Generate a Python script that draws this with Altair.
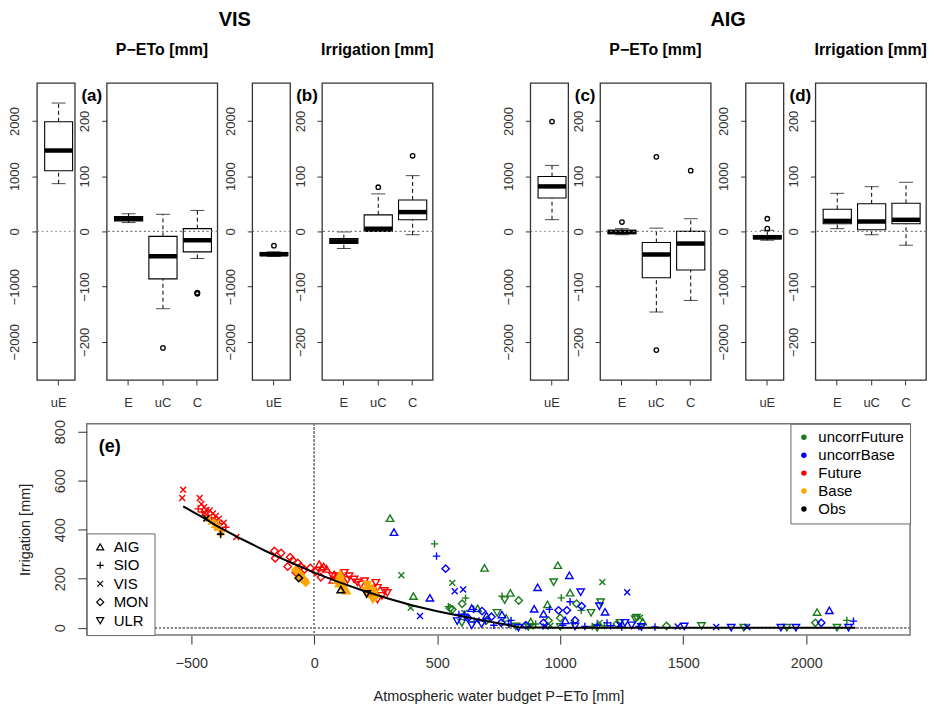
import altair as alt
import pandas as pd

FONT = "Liberation Sans"

# ---------------- top panels: box-plot summaries ----------------
box_panel = ["VIS-P-uE", "VIS-P", "VIS-P", "VIS-P",
             "VIS-I-uE", "VIS-I", "VIS-I", "VIS-I",
             "AIG-P-uE", "AIG-P", "AIG-P", "AIG-P",
             "AIG-I-uE", "AIG-I", "AIG-I", "AIG-I"]
box_cat = ["uE", "E", "uC", "C"] * 4
box_lo = [865, 16, -140, -49, -455, -31, 0, -6, 213, -6, -146, -125, -160, 5, -6, -25]
box_q1 = [1100, 19, -86, -37, -440, -22, 0, 21, 605, -4, -84, -70, -135, 14, 3, 14]
box_med = [1465, 23, -45, -16, -412, -18, 5, 35, 815, -1, -42, -22, -105, 19, 18, 21]
box_q3 = [1985, 27, -9, 5, -385, -13, 30, 57, 995, 2, -20, 0, -75, 40, 50, 51]
box_hi = [2325, 32, 31, 38, -370, -1, 68, 101, 1195, 5, 6, 23, 20, 69, 81, 89]

out_panel = ["VIS-P", "VIS-P", "VIS-P", "VIS-P", "VIS-I-uE", "VIS-I", "VIS-I",
             "AIG-P-uE", "AIG-P", "AIG-P", "AIG-P", "AIG-P", "AIG-I-uE", "AIG-I-uE"]
out_cat = ["uC", "C", "C", "C", "uE", "uC", "C", "uE", "E", "uC", "uC", "C", "uE", "uE"]
out_val = [-211, -111, -112, -113, -258, 80, 137, 1990, 17, 135, -215, 110, 50, 230]

big_ticks = [-2000, -1000, 0, 1000, 2000]
small_ticks = [-200, -100, 0, 100, 200]

# ---------------- bottom panel: scatter ----------------
series_names = ["uncorrFuture", "uncorrBase", "Future", "Base", "Obs"]
series_colors = ["#1a7a1a", "#0000ff", "#ff0000", "#ffa500", "#000000"]
model_names = ["AIG", "SIO", "VIS", "MON", "ULR"]
model_shapes = ["triangle-up", "M-1,0L1,0M0,-1L0,1",
                "M-0.8,-0.8L0.8,0.8M-0.8,0.8L0.8,-0.8", "diamond", "triangle-down"]

uf_model = ["AIG"] * 11 + ["SIO"] * 11 + ["VIS"] * 8 + ["MON"] * 10 + ["ULR"] * 15 + \
    ["ULR", "SIO", "MON", "AIG", "VIS", "ULR"]
uf_x = [308, 403, 692, 797, 664, 990, 1040, 948, 2044, 780, 880,
        489, 615, 545, 763, 1004, 1085, 2165, 650, 900, 1053, 1130,
        354, 392, 561, 1171, 1324, 880, 1160, 610,
        601, 561, 831, 1066, 952, 2037, 1432, 700, 552, 1000,
        774, 973, 1164, 1125, 1310, 1243, 1574, 1746, 1921, 2125, 820, 1000, 1150, 743, 600,
        1305, 1180, 1230, 1335, 960, 870]
uf_y = [447, 129, 244, 142, 79, 255, 143, 95, 64, 40, 25,
        342, 121, 86, 129, 122, 71, 30, 25, 15, 20, 5,
        214, 81, 183, 186, 41, 5, 20, 60,
        98, 75, 111, 98, 30, 20, 7, 30, 80, 40,
        113, 186, 104, 61, 41, 20, 7, 0, 0, 0, 5, 3, 0, 61, 20,
        35, 8, 15, 25, 8, 3]

ub_model = ["AIG"] * 11 + ["SIO"] * 15 + ["VIS"] * 10 + ["MON"] * 11 + ["ULR"] * 12 + \
    ["SIO", "SIO", "ULR", "VIS", "SIO", "ULR", "MON", "SIO", "ULR", "AIG"]
ub_x = [324, 470, 908, 894, 1037, 1182, 2094, 932, 763, 640, 700,
        497, 588, 648, 696, 790, 956, 1040, 1190, 1385, 2192, 1100, 1250, 730, 610, 1010,
        430, 571, 605, 1272, 1477, 1634, 1760, 620, 940, 660,
        534, 682, 1087, 993, 1027, 2061, 932, 720, 860, 625, 1060,
        581, 1083, 1159, 1263, 1504, 1695, 1897, 1958, 2172, 680, 830, 1330,
        1150, 1205, 1290, 1240, 1320, 1060, 760, 800, 640, 1020]
ub_y = [390, 122, 165, 77, 214, 65, 71, 57, 54, 80, 50,
        292, 54, 75, 27, 14, 75, 106, 20, 3, 27, 5, 3, 10, 55, 10,
        48, 149, 156, 145, 5, 3, 3, 40, 5, 30,
        241, 68, 88, 71, 71, 20, 20, 45, 10, 40, 30,
        27, 145, 88, 20, 5, 0, 0, 0, 0, 15, 0, 3,
        10, 8, 10, 12, 5, 5, 20, 30, 10, 30]

fu_model = ["VIS"] * 13 + ["SIO"] * 7 + ["MON"] * 13 + ["AIG"] * 8 + ["ULR"] * 16
fu_x = [-533, -537, -466, -459, -448, -438, -445, -425, -412, -400, -388, -368, -317,
        -472, -455, -432, -418, -403, -385, -360,
        -162, -159, -135, -98, -108, -88, -67, -55, -40, -16, 5, 27, -75,
        20, 30, 38, 50, 81, 95, 75, 110,
        74, 100, 122, 142, 135, 162, 175, 189, 205, 230, 250, 257, 257, 275, 297, 285]
fu_y = [563, 529, 529, 505, 492, 481, 468, 478, 466, 456, 445, 428, 370,
        485, 472, 458, 448, 440, 425, 410,
        313, 283, 305, 288, 250, 275, 264, 250, 238, 244, 228, 206, 225,
        260, 245, 250, 240, 218, 210, 195, 190,
        210, 205, 224, 210, 195, 197, 185, 176, 190, 142, 183, 163, 115, 130, 142, 150]

ba_model = ["VIS", "VIS", "SIO", "SIO", "VIS", "SIO", "SIO", "SIO", "SIO", "VIS"] + \
           ["MON"] * 7 + ["AIG"] * 8 + ["ULR"] * 8
ba_x = [-430, -420, -410, -400, -395, -405, -385, -375, -380, -392,
        -75, -65, -55, -50, -40, -35, -60,
        105, 110, 115, 120, 125, 100, 130, 95,
        215, 225, 235, 245, 220, 208, 250, 238]
ba_y = [445, 432, 424, 418, 430, 410, 400, 392, 380, 408,
        235, 225, 215, 200, 195, 185, 208,
        220, 200, 185, 170, 160, 180, 152, 195,
        175, 160, 150, 140, 140, 152, 125, 115]

ob_model = ["VIS", "SIO", "MON", "AIG", "ULR"]
ob_x = [-439, -381, -63, 108, 213]
ob_y = [446, 382, 203, 156, 138]

curve_x = [-533, -450, -400, -300, -200, -100, 0, 100, 200, 300, 400, 500, 600,
           700, 760, 800, 830, 1000, 1500, 2200]
curve_y = [495, 448, 418, 364, 314, 268, 225, 186, 151, 119, 91, 67, 47,
           27, 16, 8, 2, 0, 0, 0]

# ---------------- tables ----------------
box_df = pd.DataFrame({"panel": box_panel, "cat": box_cat, "lo": box_lo, "q1": box_q1,
                       "med": box_med, "q3": box_q3, "hi": box_hi})
out_df = pd.DataFrame({"panel": out_panel, "cat": out_cat, "val": out_val})


def series_df(name, models, xs, ys):
    return pd.DataFrame({"series": name, "model": models, "x": xs, "y": ys})


main_df = pd.concat([series_df("uncorrFuture", uf_model, uf_x, uf_y),
                     series_df("uncorrBase", ub_model, ub_x, ub_y),
                     series_df("Future", fu_model, fu_x, fu_y)], ignore_index=True)
base_df = series_df("Base", ba_model, ba_x, ba_y)
obs_df = series_df("Obs", ob_model, ob_x, ob_y)
curve_df = pd.DataFrame({"x": curve_x, "y": curve_y})

PANEL_H = 298
TRANSPARENT = alt.ViewBackground(stroke="transparent")


def label_layer(text, x, y, size, align="center", baseline="middle"):
    return alt.Chart(pd.DataFrame({"t": [text]})).mark_text(
        fontSize=size, fontWeight="bold", align=align, baseline=baseline,
        color="black", font=FONT).encode(text="t:N", x=alt.value(x), y=alt.value(y))


# ---------------- box panel builder ----------------
def box_chart(pid, cats, lim, ticks, width, tag=None, title=None):
    d = box_df[box_df["panel"] == pid]
    o = out_df[out_df["panel"] == pid]
    single = len(cats) == 1
    xscale = alt.Scale(domain=cats, paddingInner=0.18,
                       paddingOuter=0.146 if single else 0.199,
                       align=0.78 if single else 0.57)
    xaxis = alt.Axis(title=None, labelAngle=0, tickSize=5, labelPadding=12,
                     domain=False, grid=False, labelFontSize=13)
    X = alt.X("cat:N", scale=xscale, axis=xaxis)
    yscale = alt.Scale(domain=[-lim, lim], nice=False, zero=False)
    yaxis = alt.Axis(title=None, values=ticks, format="d", labelAngle=-90,
                     labelAlign="center", labelBaseline="bottom", labelPadding=10,
                     tickSize=5, domain=False, grid=False, labelFontSize=13)

    def Y(field):
        return alt.Y(field + ":Q", scale=yscale, axis=yaxis)

    base = alt.Chart(d)
    w_lo = base.mark_rule(color="black", strokeWidth=1, strokeDash=[4, 3]).encode(
        x=X, y=Y("lo"), y2=alt.Y2("q1"))
    w_hi = base.mark_rule(color="black", strokeWidth=1, strokeDash=[4, 3]).encode(
        x=X, y=Y("q3"), y2=alt.Y2("hi"))
    box = base.mark_bar(fill="white", stroke="black", strokeWidth=1.1).encode(
        x=X, y=Y("q1"), y2=alt.Y2("q3"))
    cap_lo = base.mark_tick(color="black", size=14, thickness=1).encode(x=X, y=Y("lo"))
    cap_hi = base.mark_tick(color="black", size=14, thickness=1).encode(x=X, y=Y("hi"))
    med = base.mark_tick(color="black", size=28, thickness=4.5, opacity=1).encode(
        x=X, y=Y("med"))
    outl = alt.Chart(o).mark_point(shape="circle", size=20, filled=False, color="black",
                                   strokeWidth=1.3, opacity=1).encode(x=X, y=Y("val"))
    zero = base.mark_rule(color="#777", strokeDash=[1.5, 3], strokeWidth=1).encode(
        y=alt.datum(0))
    layers = [w_lo, w_hi, box, cap_lo, cap_hi, med, outl, zero]
    if tag:
        layers.append(label_layer(tag, -15, 13, 17))
    if title:
        layers.append(label_layer(title, width / 2, -28, 16, baseline="alphabetic"))
    return alt.layer(*layers).properties(width=width, height=PANEL_H)


def spacer(width, height, text=None):
    if text:
        ch = label_layer(text, width / 2, -57, 20, baseline="alphabetic")
    else:
        ch = alt.Chart(pd.DataFrame({"v": [0]})).mark_point(opacity=0).encode(
            x=alt.value(0), y=alt.value(0))
    return ch.properties(width=width, height=height, view=TRANSPARENT)


def group_items(name, prefix, tags):
    return [
        box_chart(prefix + "-P-uE", ["uE"], 2690, big_ticks, 38),
        spacer(32, PANEL_H),
        box_chart(prefix + "-P", ["E", "uC", "C"], 269, small_ticks, 111,
                  tag=tags[0], title="P−ETo [mm]"),
        spacer(35, PANEL_H, name),
        box_chart(prefix + "-I-uE", ["uE"], 2690, big_ticks, 38),
        spacer(32, PANEL_H),
        box_chart(prefix + "-I", ["E", "uC", "C"], 269, small_ticks, 111,
                  tag=tags[1], title="Irrigation [mm]"),
    ]


top_items = group_items("VIS", "VIS", ["(a)", "(b)"]) + [spacer(98, PANEL_H)] + \
    group_items("AIG", "AIG", ["(c)", "(d)"])
top_row = alt.hconcat(*top_items, spacing=0, bounds="flush")

# ---------------- scatter ----------------
sx = alt.Scale(domain=[-925, 2422], nice=False, zero=False)
sy = alt.Scale(domain=[-30, 832], nice=False, zero=False)
sxa = alt.Axis(values=[-500, 0, 500, 1000, 1500, 2000], format="d",
               title="Atmospheric water budget P−ETo [mm]", tickSize=9, labelPadding=13,
               labelFontSize=14.5, titleFontSize=14.5, titleFontWeight="normal",
               titlePadding=19, domain=False, grid=False)
sya = alt.Axis(values=[0, 200, 400, 600, 800], format="d", title="Irrigation [mm]",
               tickSize=9, labelAngle=-90, labelAlign="center", labelBaseline="bottom",
               labelPadding=10, labelFontSize=14.5, titleFontSize=14.5,
               titleFontWeight="normal", titlePadding=20, domain=False, grid=False)


def SX():
    return alt.X("x:Q", scale=sx, axis=sxa)


def SY():
    return alt.Y("y:Q", scale=sy, axis=sya)


color_scale = alt.Scale(domain=series_names, range=series_colors)
shape_scale = alt.Scale(domain=model_names, range=model_shapes)

rule_x = alt.Chart(curve_df).mark_rule(color="#888", strokeDash=[1.5, 2.5]).encode(
    x=alt.datum(0))
rule_y = alt.Chart(curve_df).mark_rule(color="#888", strokeDash=[1.5, 2.5]).encode(
    y=alt.datum(0))

provider = alt.Chart(main_df).mark_point(filled=True, size=0, opacity=0).encode(
    x=SX(), y=SY(),
    fill=alt.Fill("series:N", scale=color_scale,
                  legend=alt.Legend(title=None, orient="top-right", offset=0, padding=6,
                                    strokeColor="#666", fillColor="white",
                                    labelFontSize=15, labelOffset=7, rowPadding=2,
                                    symbolType="circle", symbolSize=30, symbolOpacity=1,
                                    symbolStrokeWidth=0, zindex=1)))

main = alt.Chart(main_df).mark_point(filled=False, size=55, strokeWidth=1.4, opacity=1).encode(
    x=SX(), y=SY(),
    stroke=alt.Stroke("series:N", scale=color_scale, legend=None),
    shape=alt.Shape("model:N", scale=shape_scale,
                    legend=alt.Legend(title=None, orient="bottom-left", offset=0, padding=6,
                                      strokeColor="#666", fillColor="white",
                                      labelFontSize=15, labelOffset=6, rowPadding=2.5,
                                      symbolSize=50, symbolStrokeColor="black",
                                      symbolFillColor="transparent",
                                      symbolStrokeWidth=1.2, zindex=1)))

base_pts = alt.Chart(base_df).mark_point(filled=True, size=55, fill="#ffa500",
                                         stroke="#ffa500", strokeWidth=1.6, opacity=1).encode(
    x=SX(), y=SY(), shape=alt.Shape("model:N", scale=shape_scale, legend=None))

obs_pts = alt.Chart(obs_df).mark_point(filled=False, size=55, color="black",
                                       strokeWidth=1.6, opacity=1).encode(
    x=SX(), y=SY(), shape=alt.Shape("model:N", scale=shape_scale, legend=None))

curve = alt.Chart(curve_df).mark_line(color="black", strokeWidth=2).encode(x=SX(), y=SY())

etag = label_layer("(e)", 23, 23, 18)

scatter = alt.layer(rule_x, rule_y, provider, main, base_pts, obs_pts, curve, etag).resolve_scale(
    shape="independent", fill="independent", stroke="independent").properties(
    width=826, height=212, view=alt.ViewBackground(stroke="#777", strokeWidth=1.5))

bottom_row = alt.hconcat(spacer(50, 212), scatter, spacing=0, bounds="flush")

chart = alt.vconcat(top_row, bottom_row, spacing=8,
                    padding=0, background="white").configure(font=FONT).configure_view(
    stroke="#333", strokeWidth=1.3).configure_axis(
    labelFont=FONT, titleFont=FONT, labelColor="#333", tickColor="#333",
    titleColor="#222").configure_legend(labelFont=FONT, labelColor="black")

chart.save("out.html", embed_options={"renderer": "svg", "actions": False})
